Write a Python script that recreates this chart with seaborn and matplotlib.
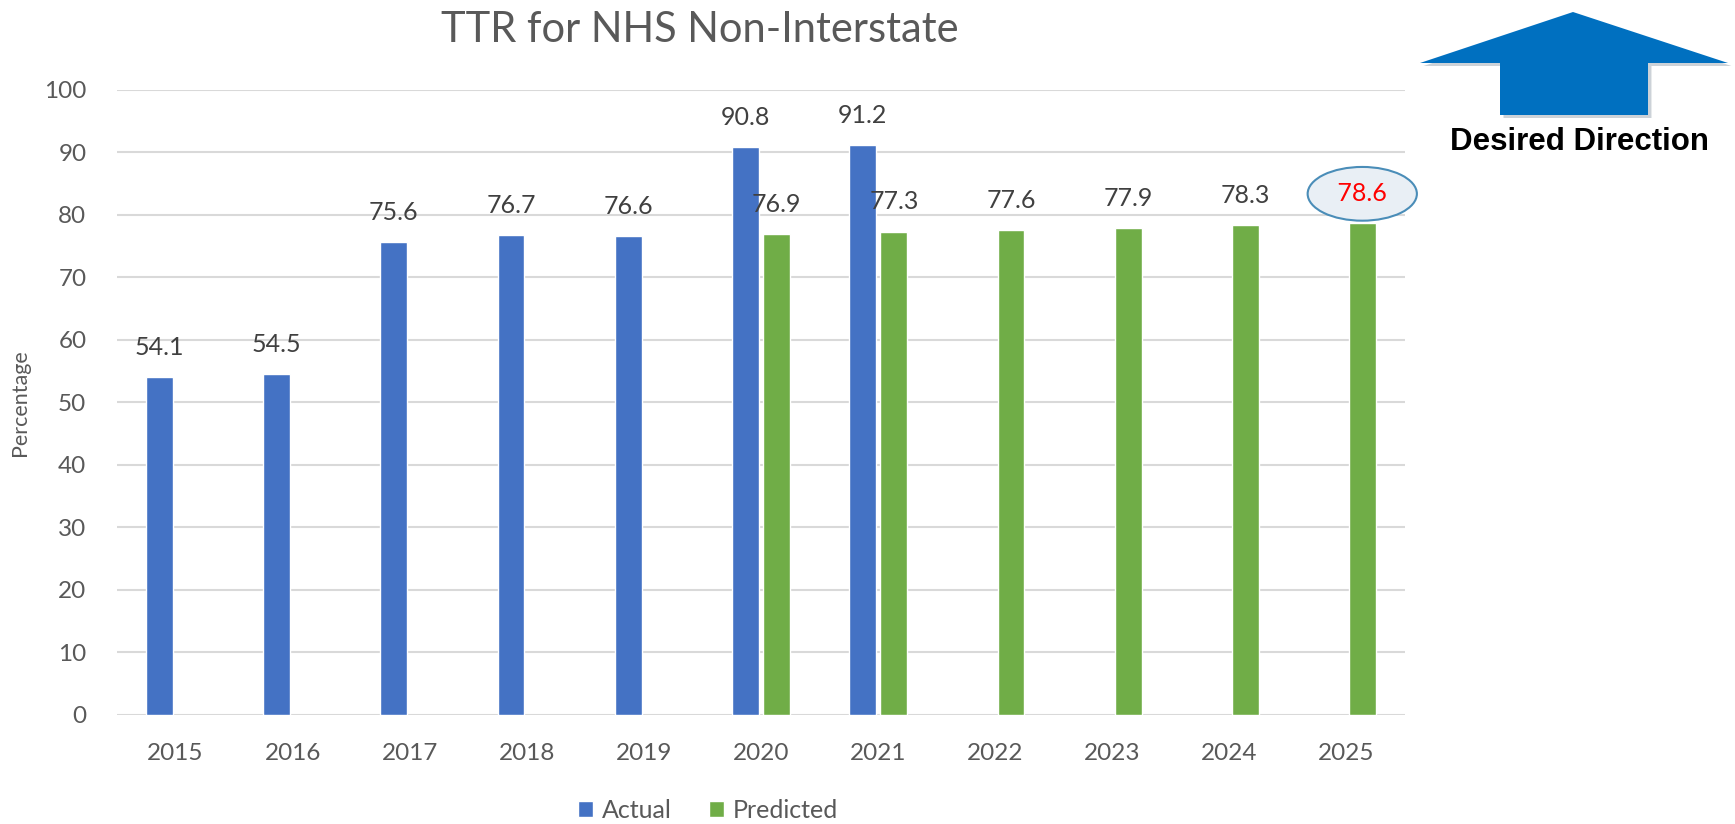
import matplotlib
matplotlib.use('Agg')
import matplotlib.pyplot as plt
from matplotlib.patches import Polygon
import seaborn as sns
import pandas as pd
import numpy as np

# data
years = ['2015', '2016', '2017', '2018', '2019', '2020', '2021', '2022', '2023', '2024', '2025']
actual = [54.1, 54.5, 75.6, 76.7, 76.6, 90.8, 91.2, np.nan, np.nan, np.nan, np.nan]
predicted = [np.nan, np.nan, np.nan, np.nan, np.nan, 76.9, 77.3, 77.6, 77.9, 78.3, 78.6]
series = ['Actual', 'Predicted']
colors = ['#4472C4', '#70AD47']
title = 'TTR for NHS Non-Interstate'
y_ticks = [0, 10, 20, 30, 40, 50, 60, 70, 80, 90, 100]

sns.set_style('white')
plt.rcParams['font.family'] = ['Lato', 'DejaVu Sans']
text_gray = '#595959'

df = pd.DataFrame({'year': years * 2,
                   'series': ['Actual'] * len(years) + ['Predicted'] * len(years),
                   'value': actual + predicted}).dropna()

fig = plt.figure(figsize=(17.35, 8.24), dpi=100)
ax = fig.add_axes([0.0674, 0.1325, 0.7424, 0.7588])

sns.barplot(data=df, x='year', y='value', hue='series', order=years, hue_order=series,
            palette=colors, width=0.54, gap=0.15, errorbar=None, saturation=1, ax=ax)

ax.set_ylim(0, 100)
ax.set_xlim(-0.5, len(years) - 0.5)
ax.set_yticks(y_ticks)
ax.grid(axis='y', color='#D9D9D9', lw=1.5)
ax.set_axisbelow(True)
sns.despine(ax=ax, left=True, bottom=True)
ax.tick_params(axis='both', length=0, labelsize=17.5, colors=text_gray)
ax.tick_params(axis='y', pad=22)
ax.tick_params(axis='x', pad=20)
ax.set_xlabel('')
ax.set_ylabel('Percentage', fontsize=15.5, color=text_gray, labelpad=10)

# value labels
last = None
for cont in ax.containers:
    last = ax.bar_label(cont, fmt='%.1f', padding=13, fontsize=18, color='#404040')
lab = last[-1]
lab.set_text(' ' + lab.get_text() + ' ')
lab.set_color('#FF0000')
lab.set_bbox(dict(boxstyle='ellipse,pad=0.3', fc='#E9EFF5', ec='#4A8DB8', lw=1.5))

fig.suptitle(title, x=0.4035, y=0.987, fontsize=30, color=text_gray)

# legend at bottom
handles, labels = ax.get_legend_handles_labels()
ax.legend_.remove()
fig.legend(handles, labels, loc='lower center', bbox_to_anchor=(0.408, -0.025), ncol=2,
           frameon=False, fontsize=18, labelcolor=text_gray, handlelength=0.6,
           handleheight=0.6, handletextpad=0.35, columnspacing=1.5)

# desired direction arrow
W, H = 1735, 824
pts = [(1573, 12), (1728, 63), (1648, 63), (1648, 115), (1500, 115), (1500, 63), (1420, 63)]
shadow = Polygon([(x / W + 0.002, 1 - (y + 3) / H) for x, y in pts], closed=True,
                 transform=fig.transFigure, fc='#9AA6B2', ec='none', alpha=0.5)
arrow = Polygon([(x / W, 1 - y / H) for x, y in pts], closed=True,
                transform=fig.transFigure, fc='#0070C0', ec='none')
fig.patches.extend([shadow, arrow])
fig.text(1579 / W, 1 - 142 / H, 'Desired Direction', ha='center', va='center',
         fontsize=22.5, fontweight='bold', family=['Liberation Sans', 'DejaVu Sans'], color='black')

plt.savefig('out.png', dpi=100)
